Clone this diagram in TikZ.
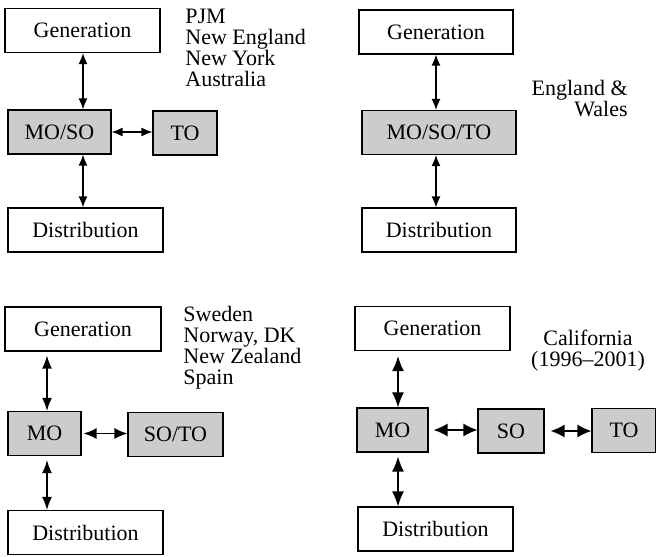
\documentclass[tikz,border=0pt]{standalone}
\usepackage{fontspec}
\setmainfont{Liberation Serif}
\usetikzlibrary{arrows.meta}
\tikzset{
  box/.style={draw,line width=0.6pt,inner sep=0pt,minimum height=22pt,font=\fontsize{11}{10.5}\selectfont},
  gbox/.style={box,fill=black!20},
  lbl/.style={inner sep=0pt,font=\fontsize{11}{10.5}\selectfont},
  link/.style={line width=0.65pt,{Latex[length=5.5pt,width=4.5pt]}-{Latex[length=5.5pt,width=4.5pt]}},
  biglink/.style={line width=0.65pt,{Latex[length=7pt,width=6.5pt]}-{Latex[length=7pt,width=6.5pt]}}
}
\begin{document}
\begin{tikzpicture}[x=0.5pt,y=-0.5pt]
\useasboundingbox (0,0) rectangle (656,556);
\node[box,minimum width=77.5pt] (gen1) at (82.5,30.5) {Generation};
\node[gbox,minimum width=51.5pt] (mos1) at (59.5,132) {MO/SO};
\node[gbox,minimum width=32pt] (to1) at (185,133) {TO};
\node[box,minimum width=77.5pt] (dist1) at (85.5,230) {Distribution};
\draw[link] (gen1.south -| 83,0) -- (mos1.north -| 83,0);
\draw[link] (mos1.south -| 83,0) -- (dist1.north -| 83,0);
\draw[link] (mos1.east) -- (to1.west |- mos1.east);
\node[lbl,anchor=north west,align=left] (reg1) at (185,9) {PJM\\New England\\New York\\Australia};
\node[box,minimum width=77pt] (gen2) at (436,32) {Generation};
\node[gbox,minimum width=77pt] (mst2) at (439,132.5) {MO/SO/TO};
\node[box,minimum width=77pt] (dist2) at (439,230) {Distribution};
\draw[link] (gen2.south -| 436,0) -- (mst2.north -| 436,0);
\draw[link] (mst2.south -| 436,0) -- (dist2.north -| 436,0);
\node[lbl,anchor=north east,align=right] (reg2) at (628,80) {England \&\\Wales};
\node[box,minimum width=78pt] (gen3) at (83,329) {Generation};
\node[gbox,minimum width=36.5pt] (mo3) at (44.5,433.5) {MO};
\node[gbox,minimum width=47.5pt] (soto3) at (175.5,434.5) {SO/TO};
\node[box,minimum width=77.5pt] (dist3) at (85.5,532.5) {Distribution};
\draw[link,{Latex[length=6.5pt,width=5pt]}-{Latex[length=6.5pt,width=5pt]}] (gen3.south -| 47,0) ++(0,4) -- (mo3.north -| 47,0);
\draw[link,{Latex[length=6.5pt,width=5pt]}-{Latex[length=6.5pt,width=5pt]}] (mo3.south -| 47,0) ++(0,4) -- (dist3.north -| 47,0);
\draw[link,{Latex[length=6.5pt,width=5.5pt]}-{Latex[length=6.5pt,width=5.5pt]}] (mo3.east) ++(2,0) -- (soto3.west |- mo3.east);
\node[lbl,anchor=north west,align=left] (reg3) at (183,306) {Sweden\\Norway, DK\\New Zealand\\Spain};
\node[box,minimum width=77.5pt] (gen4) at (432.5,328.5) {Generation};
\node[gbox,minimum width=35.5pt] (mo4) at (392.5,430) {MO};
\node[gbox,minimum width=33pt] (so4) at (511,431) {SO};
\node[gbox,minimum width=32pt] (to4) at (624,430.5) {TO};
\node[box,minimum width=77.5pt] (dist4) at (435.5,529) {Distribution};
\draw[link,{Latex[length=7.5pt,width=6pt]}-{Latex[length=7.5pt,width=6pt]}] (gen4.south -| 398,0) ++(0,5) -- (mo4.north -| 398,0);
\draw[link,{Latex[length=7.5pt,width=6pt]}-{Latex[length=7.5pt,width=6pt]}] (mo4.south -| 398,0) ++(0,4) -- (dist4.north -| 398,0);
\draw[biglink] (mo4.east) ++(5,0) -- (so4.west |- mo4.east);
\draw[biglink] (so4.east) ++(6,0) -- (to4.west |- so4.east);
\node[lbl,anchor=north,align=center] (reg4) at (588,330) {California\\(1996–2001)};
\end{tikzpicture}
\end{document}
